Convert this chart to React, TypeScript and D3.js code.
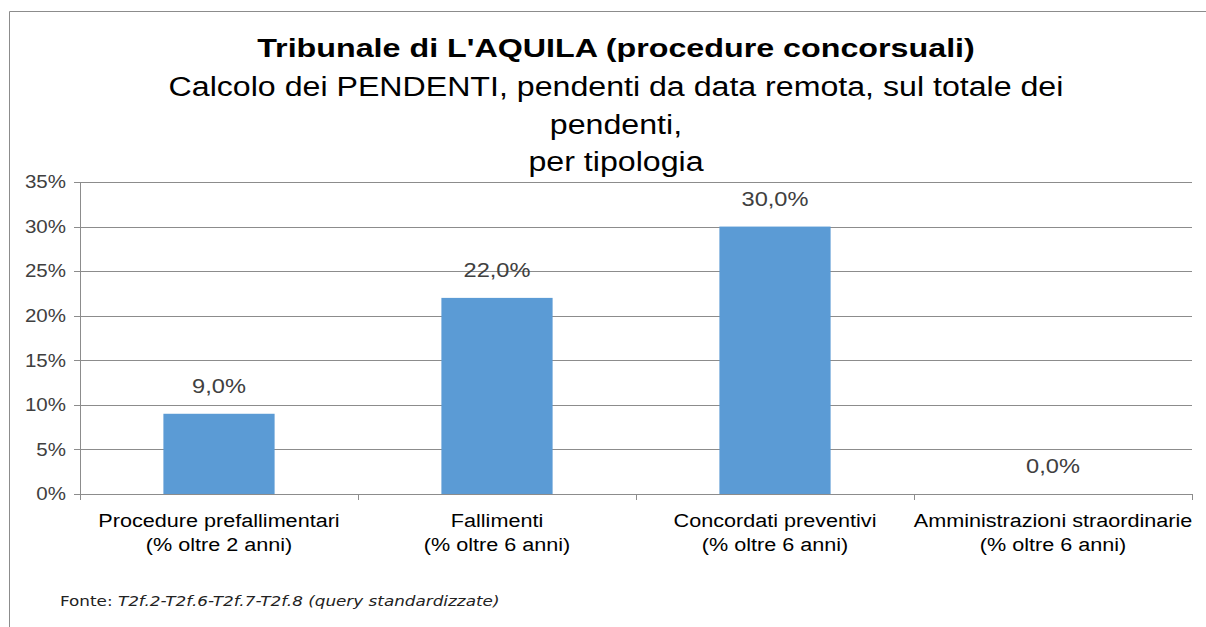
import { useEffect, useRef } from 'react'
import * as d3 from 'd3'

const categories = [
  ['Procedure prefallimentari', '(% oltre 2 anni)'],
  ['Fallimenti', '(% oltre 6 anni)'],
  ['Concordati preventivi', '(% oltre 6 anni)'],
  ['Amministrazioni straordinarie', '(% oltre 6 anni)'],
]
const values = [0.09, 0.22, 0.3, 0.0]
const yTicks = [0, 0.05, 0.1, 0.15, 0.2, 0.25, 0.3, 0.35]
const titleLines = [
  'Calcolo dei PENDENTI, pendenti da data remota, sul totale dei',
  'pendenti,',
  'per tipologia',
]

const W = 1206
const H = 627
const FONT = 'Liberation Sans, Arial, sans-serif'

// the source picture is a bit wider than tall, so text gets stretched horizontally
function stretch(sel: d3.Selection<any, any, any, any>, k: number) {
  sel.each(function () {
    const node = this as SVGTextContentElement
    const len = node.getComputedTextLength()
    if (len > 0) d3.select(node).attr('textLength', len * k).attr('lengthAdjust', 'spacingAndGlyphs')
  })
}

export default function App() {
  const ref = useRef<SVGSVGElement | null>(null)

  useEffect(() => {
    document.body.style.margin = '0'
    const el = ref.current
    if (!el) return
    const svg = d3.select(el)
    svg.selectAll('*').remove()

    svg.append('rect').attr('width', W).attr('height', H).attr('fill', '#fff')
    // outer frame
    svg.append('path')
      .attr('d', `M9.5,${H} V11.5 H${W}`)
      .attr('fill', 'none').attr('stroke', '#8c8c8c').attr('stroke-width', 1)

    const m = { top: 182, right: 14, bottom: 133, left: 80 }
    const iw = W - m.left - m.right
    const ih = H - m.top - m.bottom
    const g = svg.append('g').attr('transform', `translate(${m.left},${m.top})`)

    const x = d3.scaleBand<number>().domain(categories.map((_, i) => i)).range([0, iw]).padding(0)
    const y = d3.scaleLinear().domain([0, 0.35]).range([ih, 0])

    // gridlines
    g.selectAll('line.grid').data(yTicks).join('line')
      .attr('class', 'grid')
      .attr('x1', -6).attr('x2', iw)
      .attr('y1', d => Math.round(y(d)) + 0.5).attr('y2', d => Math.round(y(d)) + 0.5)
      .attr('stroke', '#8c8c8c').attr('stroke-width', 1)

    // y axis line
    g.append('line').attr('x1', 0.5).attr('x2', 0.5).attr('y1', 0).attr('y2', ih)
      .attr('stroke', '#8c8c8c')

    const yl = g.selectAll('text.ytick').data(yTicks).join('text')
      .attr('class', 'ytick')
      .attr('x', -14).attr('y', d => y(d)).attr('dy', '0.35em')
      .attr('text-anchor', 'end')
      .attr('font-family', FONT).attr('font-size', 18).attr('fill', '#404040')
      .text(d => `${Math.round(d * 100)}%`)
    stretch(yl, 1.14)

    // x ticks at category boundaries
    const bounds = d3.range(categories.length + 1).map(i => i * x.step())
    g.selectAll('line.xtick').data(bounds).join('line')
      .attr('class', 'xtick')
      .attr('x1', d => Math.round(d) + 0.5).attr('x2', d => Math.round(d) + 0.5)
      .attr('y1', ih).attr('y2', ih + 6)
      .attr('stroke', '#8c8c8c')

    const bw = x.bandwidth() * 0.4
    g.selectAll('rect.bar').data(values).join('rect')
      .attr('class', 'bar')
      .attr('x', (_, i) => (x(i) ?? 0) + (x.bandwidth() - bw) / 2)
      .attr('y', d => y(d))
      .attr('width', bw)
      .attr('height', d => ih - y(d))
      .attr('fill', '#5b9bd5')

    const vl = g.selectAll('text.val').data(values).join('text')
      .attr('class', 'val')
      .attr('x', (_, i) => (x(i) ?? 0) + x.bandwidth() / 2)
      .attr('y', d => y(d) - 21)
      .attr('text-anchor', 'middle')
      .attr('font-family', FONT).attr('font-size', 20).attr('fill', '#404040')
      .text(d => `${(d * 100).toFixed(1).replace('.', ',')}%`)
    stretch(vl, 1.18)

    const xl = g.selectAll('text.xlab').data(categories).join('text')
      .attr('class', 'xlab')
      .attr('text-anchor', 'middle')
      .attr('font-family', FONT).attr('font-size', 18).attr('fill', '#000')
    const xs = xl.selectAll('tspan').data((d, i) => d.map(s => ({ s, i }))).join('tspan')
      .attr('x', d => (x(d.i) ?? 0) + x.bandwidth() / 2)
      .attr('y', (_, j) => ih + 33 + j * 24)
      .text(d => d.s)
    stretch(xs, 1.2)

    // titles
    const t = svg.append('text')
      .attr('x', 616).attr('y', 57)
      .attr('text-anchor', 'middle')
      .attr('font-family', FONT).attr('font-size', 26).attr('font-weight', 'bold')
      .text("Tribunale di L'AQUILA (procedure concorsuali)")
    stretch(t, 1.24)
    const st = svg.selectAll('text.sub').data(titleLines).join('text')
      .attr('class', 'sub')
      .attr('x', 616).attr('y', (_, i) => 96 + i * 37.5)
      .attr('text-anchor', 'middle')
      .attr('font-family', FONT).attr('font-size', 27)
      .text(d => d)
    stretch(st, 1.19)

    const foot = svg.append('text')
      .attr('x', 60).attr('y', 606)
      .attr('font-family', 'DejaVu Sans, Verdana, sans-serif').attr('font-size', 14).attr('fill', '#222')
    foot.append('tspan').text('Fonte: ')
    foot.append('tspan').attr('font-style', 'italic').text('T2f.2-T2f.6-T2f.7-T2f.8 (query standardizzate)')
    stretch(foot, 1.2)
  }, [])

  return <svg ref={ref} width={W} height={H} style={{ display: 'block' }} />
}
